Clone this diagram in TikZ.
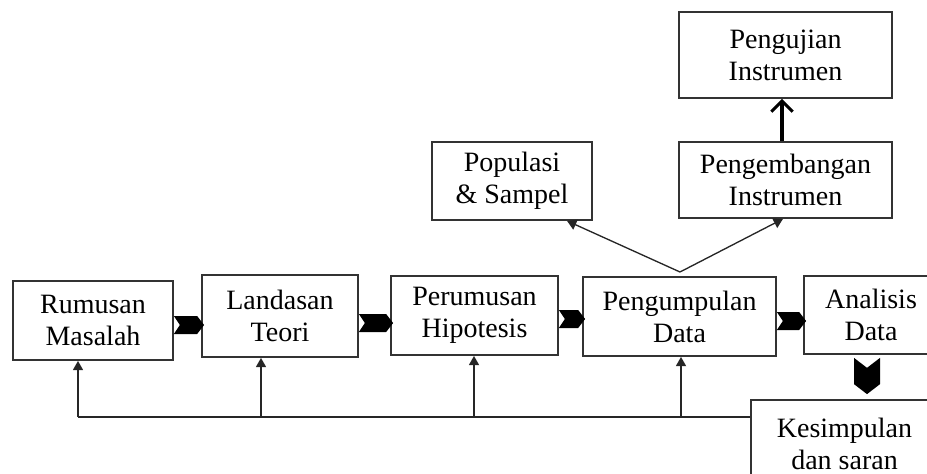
\documentclass[tikz,border=0pt]{standalone}
\usepackage{fontspec}
\setmainfont{Liberation Serif}
\usetikzlibrary{arrows.meta}

\begin{document}
\begin{tikzpicture}[x=0.75pt,y=-0.75pt,
    box/.style={draw=black!80, line width=1.3pt, align=center, inner sep=0pt,
      font=\fontsize{21}{24}\selectfont},
    ln/.style={draw=black!85, line width=1.3pt},
    fb/.style={ln, -{Triangle[length=7pt,width=7.5pt]}},
    sl/.style={draw=black!85, line width=1pt, -{Triangle[length=7pt,width=8pt]}},
    up/.style={line width=2.3pt, -{Straight Barb[length=8pt,width=16pt]}},
    blk/.style={fill=black, to path={([yshift=9*\px]\tikztostart)
      -- ([xshift=-4*\px,yshift=9*\px]\tikztotarget) -- ([xshift=3*\px]\tikztotarget)
      -- ([xshift=-4*\px,yshift=-9*\px]\tikztotarget) -- ([yshift=-9*\px]\tikztostart)
      -- ([xshift=6*\px]\tikztostart) -- cycle}},
    blkd/.style={fill=black, to path={([xshift=-13*\px,yshift=-3*\px]\tikztostart)
      -- ([xshift=-13*\px,yshift=15*\px]\tikztotarget) -- ([yshift=5*\px]\tikztotarget)
      -- ([xshift=13*\px,yshift=15*\px]\tikztotarget) -- ([xshift=13*\px,yshift=-3*\px]\tikztostart)
      -- ([yshift=-13*\px]\tikztostart) -- cycle}}]
  \def\px{0.75pt}  % one pixel of the sketch
  \useasboundingbox (0,0) rectangle (927,474);

  % main row
  \node[box, minimum width=160*\px, minimum height=79*\px] (rum) at (93,320.5) {Rumusan\\Masalah};
  \node[box, minimum width=156*\px, minimum height=82*\px] (lan) at (280,316) {Landasan\\Teori};
  \node[box, minimum width=167*\px, minimum height=79*\px] (per) at (474.5,315.5) {Perumusan\\Hipotesis};
  \node[box, minimum width=193*\px, minimum height=79*\px] (pgm) at (679.5,316.5) {Pengumpulan\\Data};
  \node[box, minimum width=134*\px, minimum height=78*\px] (ana) at (871,315) {Analisis\\Data};
  \node[box, minimum width=187*\px, minimum height=88*\px] (kes) at (844.5,444) {Kesimpulan\\dan saran};

  % upper boxes
  \node[box, minimum width=160*\px, minimum height=78*\px] (pop) at (512,181) {Populasi\\\& Sampel};
  \node[box, minimum width=213*\px, minimum height=76*\px] (pen) at (785.5,180) {Pengembangan\\Instrumen};
  \node[box, minimum width=213*\px, minimum height=86*\px] (uji) at (785.5,55) {Pengujian\\Instrumen};

  % block arrows
  \path[blk] (rum.east |- 0,325) to (lan.west |- 0,325);
  \path[blk] (lan.east |- 0,323) to (per.west |- 0,323);
  \path[blk] (per.east |- 0,319) to (pgm.west |- 0,319);
  \path[blk] (pgm.east |- 0,321) to (ana.west |- 0,321);
  \path[blkd] (ana.south -| 867,0) to (kes.north -| 867,0);

  % feedback line
  \foreach \n/\x in {rum/78, lan/261, per/474, pgm/681} {
    \coordinate (f\n) at (\x,417);
    \draw[fb] (f\n) -- (f\n |- \n.south);
  }
  \draw[ln] (frum) -- (kes.west |- frum);

  % data collection branches
  \coordinate (fork) at (680,272);
  \draw[sl] (fork) -- (pop.south -| 567,0);
  \draw[sl] (fork) -- (pen.south -| 783,0);
  \draw[up] (pen.north -| 782,0) -- (uji.south -| 782,0);
\end{tikzpicture}
\end{document}
